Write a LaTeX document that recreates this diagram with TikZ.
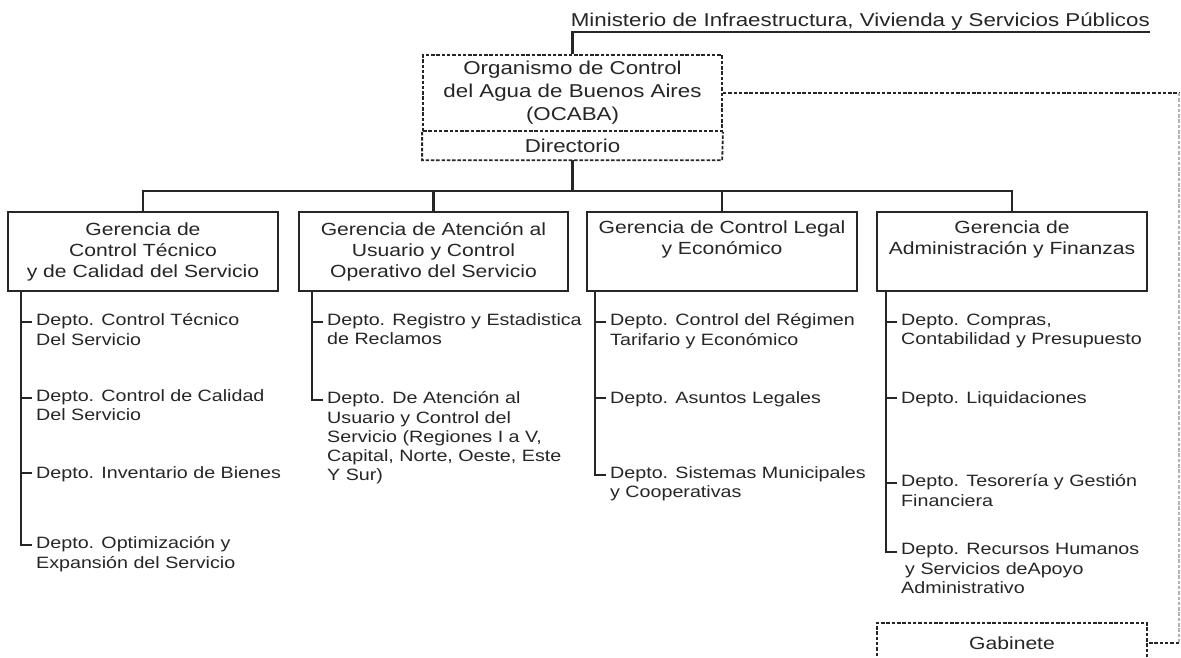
\documentclass[tikz,border=0pt]{standalone}
\usepackage{fontspec}
\setmainfont{Liberation Sans}[FakeStretch=1.2]
\definecolor{tinta}{HTML}{262626}

\begin{document}
\begin{tikzpicture}[x=1pt,y=-1pt,
  every node/.style={text=tinta},
  punteado/.style={draw=tinta, line width=1.8pt, dash pattern=on 3.5pt off 1.8pt},
  caja/.style={draw=tinta, line width=2.1pt, minimum width=270pt, minimum height=79pt,
    align=center, inner sep=0pt, font=\fontsize{17.6}{21}\selectfont},
  depto/.style={anchor=north west, align=left, inner sep=0pt,
    font=\fontsize{16.4}{19.3}\selectfont, execute at begin node=\strut},
  rama/.style={draw=tinta, line width=2.1pt},
  guion/.style={draw=tinta, line width=1.4pt}]

  \clip (0,0) rectangle (1181,658);
  \fill[white] (0,0) rectangle (1181,658);

  \node[anchor=south east, inner xsep=0pt, inner ysep=1.5pt, font=\fontsize{18.6}{22}\selectfont]
    (min) at (1150,32) {Ministerio de Infraestructura, Vivienda y Servicios Públicos};

  \node[punteado, minimum width=299pt, minimum height=76pt, align=center, inner sep=0pt,
    font=\fontsize{18.6}{23}\selectfont] (ocaba) at (572.5,93)
    {Organismo de Control\\del Agua de Buenos Aires\\(OCABA)};
  \node[minimum width=299pt, minimum height=29pt, inner sep=0pt,
    font=\fontsize{18.6}{23}\selectfont] (dir) at (572.5,145.5) {Directorio};
  \draw[punteado] (ocaba.south west) |- (dir.south east) -- (ocaba.south east);

  \draw[rama] (ocaba.north) |- (min.south east);

  \node[caja] (g1) at (143,251.5) {Gerencia de\\Control Técnico\\y de Calidad del Servicio};
  \node[caja, minimum width=269pt] (g2) at (433.5,251.5) {Gerencia de Atención al\\Usuario y Control\\Operativo del Servicio};
  \node[caja] (g3) at (722,251.5) {Gerencia de Control Legal\\y Económico\\\strut};
  \node[caja] (g4) at (1012,251.5) {Gerencia de\\Administración y Finanzas\\\strut};

  \coordinate (bus) at (572.5,191);
  \draw[rama] (dir.south) -- (bus);
  \foreach \g in {g1,g2,g3,g4}
    \draw[rama] (bus) -| (\g.north);

  \node[depto] (d11) at (36,313.5) {Depto. Control Técnico\\Del Servicio};
  \node[depto] (d12) at (36,389.5) {Depto. Control de Calidad\\Del Servicio};
  \node[depto] (d13) at (36,464.5) {Depto. Inventario de Bienes};
  \node[depto] (d14) at (36,536.5) {Depto. Optimización y\\Expansión del Servicio};

  \node[depto] (d21) at (327,313.5) {Depto. Registro y Estadistica\\de Reclamos};
  \node[depto] (d22) at (327,391.5) {Depto. De Atención al\\Usuario y Control del\\Servicio (Regiones I a V,\\Capital, Norte, Oeste, Este\\Y Sur)};

  \node[depto] (d31) at (610,313.5) {Depto. Control del Régimen\\Tarifario y Económico};
  \node[depto] (d32) at (610,389.5) {Depto. Asuntos Legales};
  \node[depto] (d33) at (610,466.5) {Depto. Sistemas Municipales\\y Cooperativas};

  \node[depto] (d41) at (901,313.5) {Depto. Compras,\\Contabilidad y Presupuesto};
  \node[depto] (d42) at (901,389.5) {Depto. Liquidaciones};
  \node[depto] (d43) at (901,474.5) {Depto. Tesorería y Gestión\\Financiera};
  \node[depto] (d44) at (901,543.5) {Depto. Recursos Humanos\\\hspace*{4pt}y Servicios deApoyo\\Administrativo};

  \draw[rama] (g1.south west) ++(14,0) |- ([xshift=-4pt,yshift=-8.5pt]d14.north west);
  \draw[rama] (g2.south west) ++(14,0) |- ([xshift=-4pt,yshift=-8.5pt]d22.north west);
  \draw[rama] (g3.south west) ++(9,0) |- ([xshift=-4pt,yshift=-8.5pt]d33.north west);
  \draw[rama] (g4.south west) ++(10,0) |- ([xshift=-4pt,yshift=-8.5pt]d44.north west);
  \foreach \d in {d11,d12,d13,d21,d31,d32,d41,d42,d43}
    \draw[guion] ([yshift=-8.5pt]\d.north west) ++(-4,0) -- ++(-10,0);

  \node[punteado, minimum width=270pt, minimum height=40pt, inner sep=0pt,
    font=\fontsize{17.6}{21}\selectfont] (gab) at (1012,643) {Gabinete};

  \coordinate (esq1) at (1179,93);
  \coordinate (esq2) at (1179,643);
  \draw[punteado] (ocaba.east) -- (esq1);
  \draw[punteado, draw=tinta!35] (esq1) -- (esq2);
  \draw[punteado] (esq2) -- (gab.east);

\end{tikzpicture}
\end{document}
